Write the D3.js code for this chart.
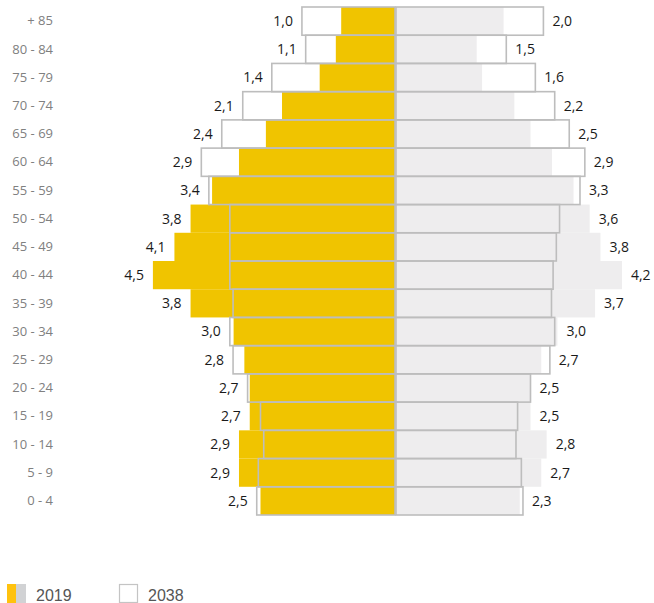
<!DOCTYPE html>
<html>
<head>
<meta charset="utf-8">
<script src="https://cdn.jsdelivr.net/npm/d3@7"></script>
<style>
  body { margin: 0; background: #fff; }
  svg { display: block; }
</style>
</head>
<body>
<div id="chart"></div>
<script>
var ages = ["+ 85","80 - 84","75 - 79","70 - 74","65 - 69","60 - 64","55 - 59","50 - 54","45 - 49",
            "40 - 44","35 - 39","30 - 34","25 - 29","20 - 24","15 - 19","10 - 14","5 - 9","0 - 4"];

// left side (yellow) and right side (grey), 2019 filled, 2038 outline
var left2019  = [1.0,1.1,1.4,2.1,2.4,2.9,3.4,3.8,4.1,4.5,3.8,3.0,2.8,2.7,2.7,2.9,2.9,2.5];
var left2038  = [1.73,1.66,2.29,2.83,3.22,3.60,3.46,3.07,3.07,3.07,3.01,3.07,3.01,2.74,2.50,2.44,2.54,2.57];
var right2019 = [2.0,1.5,1.6,2.2,2.5,2.9,3.3,3.6,3.8,4.2,3.7,3.0,2.7,2.5,2.5,2.8,2.7,2.3];
var right2038 = [2.74,2.05,2.59,2.95,3.22,3.51,3.42,3.04,2.98,2.92,2.89,2.95,2.86,2.50,2.26,2.23,2.33,2.36];

var legendItems = ["2019", "2038"];

var width = 654, height = 603;
var centerL = 395, centerR = 396;

var svg = d3.select("#chart")
  .append("svg")
  .attr("width", width)
  .attr("height", height);

var y = d3.scaleBand().domain(ages).range([7, 515]).padding(0);
var xL = d3.scaleLinear().domain([0, 5]).range([centerL, centerL - 269]);
var xR = d3.scaleLinear().domain([0, 5]).range([centerR, centerR + 269]);

var fmt = function(v) { return d3.format(".1f")(v).replace(".", ","); };

var rows = ages.map(function(a, i) {
  return { age: a, l19: left2019[i], l38: left2038[i], r19: right2019[i], r38: right2038[i] };
});

// filled 2019 bars
svg.selectAll(".barL")
  .data(rows).enter().append("rect")
  .attr("class", "barL")
  .attr("x", function(d) { return xL(d.l19); })
  .attr("y", function(d) { return y(d.age); })
  .attr("width", function(d) { return centerL - xL(d.l19); })
  .attr("height", y.bandwidth())
  .attr("fill", "#F0C400");

svg.selectAll(".barR")
  .data(rows).enter().append("rect")
  .attr("class", "barR")
  .attr("x", centerR)
  .attr("y", function(d) { return y(d.age); })
  .attr("width", function(d) { return xR(d.r19) - centerR; })
  .attr("height", y.bandwidth())
  .attr("fill", "#EEEDEE");

// outline 2038 bars
svg.selectAll(".outL")
  .data(rows).enter().append("rect")
  .attr("class", "outL")
  .attr("x", function(d) { return xL(d.l38); })
  .attr("y", function(d) { return y(d.age); })
  .attr("width", function(d) { return centerL - xL(d.l38); })
  .attr("height", y.bandwidth())
  .attr("fill", "none")
  .attr("stroke", "#BDBDBD")
  .attr("stroke-width", 1.6);

svg.selectAll(".outR")
  .data(rows).enter().append("rect")
  .attr("class", "outR")
  .attr("x", centerR)
  .attr("y", function(d) { return y(d.age); })
  .attr("width", function(d) { return xR(d.r38) - centerR; })
  .attr("height", y.bandwidth())
  .attr("fill", "none")
  .attr("stroke", "#BDBDBD")
  .attr("stroke-width", 1.6);

// value labels (2019)
svg.selectAll(".lblL")
  .data(rows).enter().append("text")
  .attr("x", function(d) { return xL(Math.max(d.l19, d.l38)) - 9; })
  .attr("y", function(d) { return y(d.age) + y.bandwidth() / 2; })
  .attr("dy", "0.35em")
  .attr("text-anchor", "end")
  .style("font-family", "'Open Sans', sans-serif")
  .style("font-size", "14px")
  .attr("fill", "#1a1a1a")
  .text(function(d) { return fmt(d.l19); });

svg.selectAll(".lblR")
  .data(rows).enter().append("text")
  .attr("x", function(d) { return xR(Math.max(d.r19, d.r38)) + 9; })
  .attr("y", function(d) { return y(d.age) + y.bandwidth() / 2; })
  .attr("dy", "0.35em")
  .attr("text-anchor", "start")
  .style("font-family", "'Open Sans', sans-serif")
  .style("font-size", "14px")
  .attr("fill", "#1a1a1a")
  .text(function(d) { return fmt(d.r19); });

// age axis
var axis = svg.append("g")
  .attr("transform", "translate(53,0)")
  .call(d3.axisLeft(y).tickSize(0).tickPadding(0));
axis.select(".domain").remove();
axis.selectAll("text")
  .style("font-family", "'Open Sans', sans-serif")
  .style("font-size", "13px")
  .attr("fill", "#808080");

// legend
var lg = svg.append("g").attr("transform", "translate(0,584)");
lg.append("rect").attr("x", 7).attr("y", 0).attr("width", 9).attr("height", 19).attr("fill", "#FFC20E");
lg.append("rect").attr("x", 16).attr("y", 0).attr("width", 10).attr("height", 19).attr("fill", "#D1D2D4");
lg.append("text").attr("x", 36).attr("y", 17)
  .style("font-family", "'Liberation Sans', Arial, sans-serif").style("font-size", "16px")
  .attr("fill", "#555").text(legendItems[0]);
lg.append("rect").attr("x", 119.5).attr("y", 0.5).attr("width", 18).attr("height", 18)
  .attr("fill", "#fff").attr("stroke", "#C4C4C4").attr("stroke-width", 1.2);
lg.append("text").attr("x", 148).attr("y", 17)
  .style("font-family", "'Liberation Sans', Arial, sans-serif").style("font-size", "16px")
  .attr("fill", "#555").text(legendItems[1]);
</script>
</body>
</html>
